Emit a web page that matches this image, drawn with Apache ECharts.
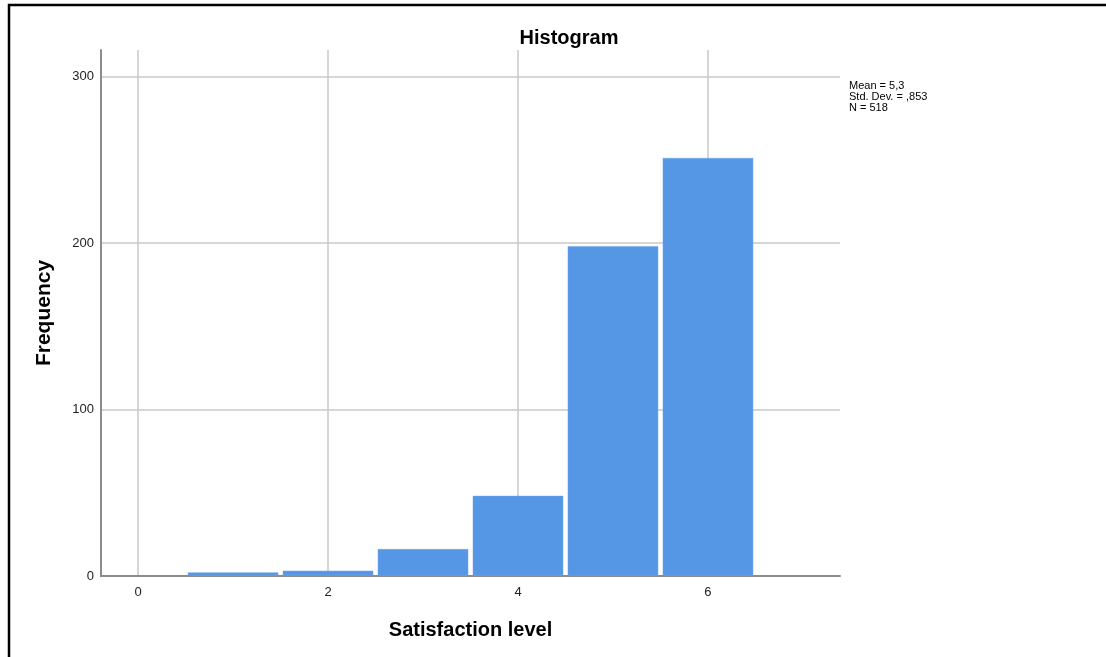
<!DOCTYPE html>
<html>
<head>
<meta charset="utf-8">
<script src="https://cdn.jsdelivr.net/npm/echarts@6/dist/echarts.min.js"></script>
<style>
html,body{margin:0;padding:0;background:#fff;}
#chart{width:1106px;height:657px;}
</style>
</head>
<body>
<div id="chart"></div>
<script>
const binCenters = [1, 2, 3, 4, 5, 6];
const frequencies = [2, 3, 16, 48, 198, 251];
const yTicks = [0, 100, 200, 300];
const xTicks = [0, 2, 4, 6];
const statsLines = ['Mean = 5,3', 'Std. Dev. = ,853', 'N = 518'];

const chart = echarts.init(document.getElementById('chart'), null, {renderer: 'canvas'});
const font = 'Liberation Sans, Arial, sans-serif';

const option = {
  backgroundColor: '#fff',
  animation: false,
  title: {
    text: 'Histogram',
    left: 564, top: 23,
    textAlign: 'center',
    textStyle: {fontFamily: font, fontSize: 20, fontWeight: 'bold', color: '#000'}
  },
  grid: {left: 101, right: 266, top: 50, bottom: 81, containLabel: false},
  xAxis: {
    type: 'value', min: -0.39, max: 7.39,
    name: 'Satisfaction level', nameLocation: 'middle', nameGap: 44,
    nameTextStyle: {fontFamily: font, fontSize: 20, fontWeight: 'bold', color: '#000'},
    axisLine: {show: true, onZero: false, lineStyle: {color: '#8c8c8c', width: 2}},
    axisTick: {show: false},
    axisLabel: {showMinLabel: false, showMaxLabel: false, fontFamily: font, fontSize: 13, color: '#222', margin: 10,
      formatter: v => xTicks.indexOf(v) >= 0 ? String(v) : ''},
    splitLine: {show: true, showMinLine: false, showMaxLine: false, lineStyle: {color: '#c8c8c8', width: 1.5}}
  },
  yAxis: {
    type: 'value', min: 0, max: 316, interval: 100,
    name: 'Frequency', nameLocation: 'middle', nameGap: 46, nameRotate: 90,
    nameTextStyle: {fontFamily: font, fontSize: 21, fontWeight: 'bold', color: '#000'},
    axisLine: {show: true, onZero: false, lineStyle: {color: '#8c8c8c', width: 2}},
    axisTick: {show: false},
    axisLabel: {showMaxLabel: false, fontFamily: font, fontSize: 13, color: '#222', margin: 7,
      formatter: v => yTicks.indexOf(v) >= 0 ? String(v) : ''},
    splitLine: {show: true, showMinLine: false, showMaxLine: false, lineStyle: {color: '#c8c8c8', width: 1.5}}
  },
  series: [{
    type: 'custom',
    data: binCenters.map((c, i) => [c, frequencies[i]]),
    encode: {x: 0, y: 1},
    z: 3,
    renderItem: function (params, api) {
      const c = api.value(0), v = api.value(1);
      const p0 = api.coord([c - 0.5, v]);
      const p1 = api.coord([c + 0.5, 0]);
      const gap = 2.5;
      return {
        type: 'rect',
        shape: {x: p0[0] + gap, y: p0[1], width: p1[0] - p0[0] - 2 * gap, height: p1[1] - p0[1] - 1},
        style: {fill: '#5596e5', stroke: '#6ea6ea', lineWidth: 0.5}
      };
    }
  }],
  graphic: [
    {type: 'rect', shape: {x: 9, y: 5, width: 1200, height: 1000}, style: {fill: 'none', stroke: '#000', lineWidth: 2.5}, z: 10},
    {type: 'text', left: 849, top: 80, style: {text: statsLines.join('\n'), fontFamily: font, fontSize: 11, lineHeight: 11, fill: '#000'}}
  ]
};
chart.setOption(option);
</script>
</body>
</html>
